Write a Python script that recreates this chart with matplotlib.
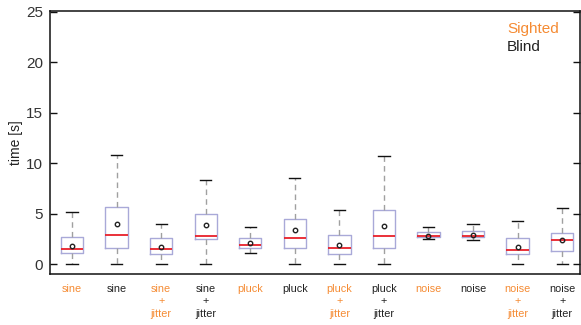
import matplotlib
matplotlib.use("Agg")
import matplotlib.pyplot as plt

plt.rcParams['font.family'] = ['Liberation Sans', 'DejaVu Sans']

labels = ["sine", "sine", "sine\n+\njitter", "sine\n+\njitter", "pluck", "pluck",
          "pluck\n+\njitter", "pluck\n+\njitter", "noise", "noise",
          "noise\n+\njitter", "noise\n+\njitter"]
groups = ["Sighted", "Blind"] * 6

whislo = [0.0, 0.0, 0.0, 0.0, 1.09, 0.0, 0.0, 0.0, 2.48, 2.38, 0.0, 0.0]
q1     = [1.09, 1.58, 0.99, 2.48, 1.58, 1.58, 0.99, 1.58, 2.67, 2.67, 0.99, 1.29]
med    = [1.49, 2.87, 1.49, 2.77, 1.88, 2.57, 1.58, 2.77, 2.77, 2.77, 1.39, 2.38]
q3     = [2.67, 5.64, 2.57, 4.95, 2.57, 4.51, 2.87, 5.35, 3.17, 3.27, 2.57, 3.07]
whishi = [5.15, 10.85, 3.96, 8.32, 3.66, 8.51, 5.35, 10.69, 3.66, 3.96, 4.26, 5.54]
means  = [1.81, 3.99, 1.68, 3.86, 2.08, 3.43, 1.94, 3.76, 2.80, 2.90, 1.68, 2.38]

colors = {"Sighted": "#f58b33", "Blind": "#222222"}

stats = []
for i in range(len(labels)):
    stats.append(dict(whislo=whislo[i], q1=q1[i], med=med[i], q3=q3[i],
                      whishi=whishi[i], mean=means[i], fliers=[], label=labels[i]))

fig = plt.figure(figsize=(5.81, 3.25), dpi=100)
ax = fig.add_axes([50/581, 1-274/325, 530/581, 263/325])

positions = list(range(1, len(labels) + 1))
ax.bxp(stats, positions=positions, widths=0.5, showmeans=True, showfliers=False,
       boxprops=dict(color="#a9a9d8", linewidth=1.0),
       whiskerprops=dict(color="#a0a0a0", linewidth=1.0, linestyle=(0, (4, 3))),
       capprops=dict(color="#111111", linewidth=1.0),
       medianprops=dict(color="#e8202a", linewidth=1.3),
       meanprops=dict(marker="o", markersize=3.2, markerfacecolor="none",
                      markeredgecolor="#222222", markeredgewidth=1.0),
       capwidths=0.25)

ax.set_xlim(0.506, 12.40)
ax.set_ylim(-0.96, 25.08)
ax.set_yticks([0, 5, 10, 15, 20, 25])
ax.tick_params(axis='y', direction='in', length=5, width=1, labelsize=11,
               right=True, colors="#111111", labelcolor="#333333", pad=5)
ax.tick_params(axis='x', length=0, pad=7)
ax.set_xticks(positions)
ax.set_xticklabels(labels, fontsize=7.8, linespacing=1.3)
for t, g in zip(ax.get_xticklabels(), groups):
    t.set_color(colors[g])
    t.set_ha("center")

for s in ax.spines.values():
    s.set_linewidth(1.1)
    s.set_color("#111111")

ax.set_ylabel("time [s]", fontsize=10, color="#222222", labelpad=2)

ax.text(0.862, 0.93, "Sighted", transform=ax.transAxes, fontsize=11,
        color=colors["Sighted"], va="center", ha="left")
ax.text(0.862, 0.865, "Blind", transform=ax.transAxes, fontsize=11,
        color=colors["Blind"], va="center", ha="left")

fig.savefig("out.png", dpi=100)
